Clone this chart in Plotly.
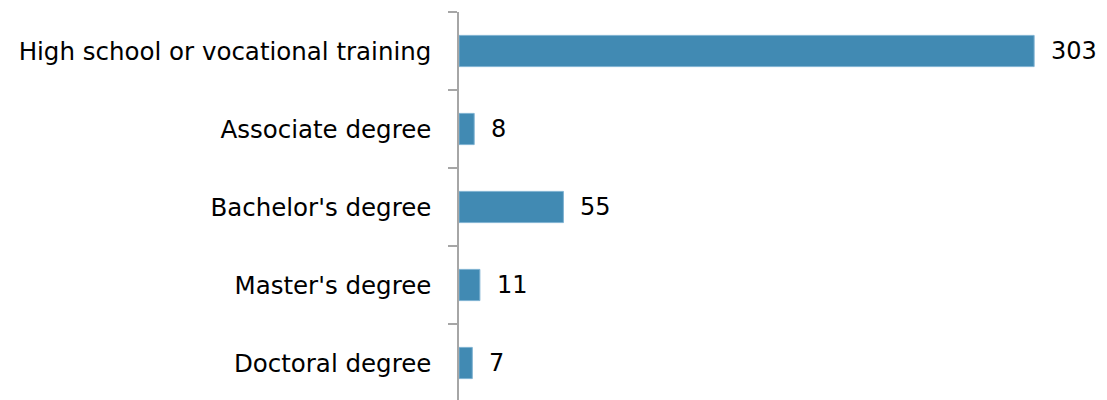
import plotly.graph_objects as go

categories = ["High school or vocational training", "Associate degree", "Bachelor's degree",
              "Master's degree", "Doctoral degree"]
values = [303, 8, 55, 11, 7]

FONT = "DejaVu Sans, sans-serif"

fig = go.Figure(go.Bar(
    y=categories, x=values, orientation="h",
    marker=dict(color="#418AB3", line=dict(color="#7FB2D2", width=1)),
    width=0.4,
    textposition="none",
))

for c, v in zip(categories, values):
    fig.add_annotation(x=v, y=c, text=str(v), showarrow=False, xanchor="left",
                       xshift=15, font=dict(family=FONT, size=24, color="#000000"))

fig.update_layout(
    width=1107, height=400,
    margin=dict(l=451, r=0, t=4, b=6),
    paper_bgcolor="white", plot_bgcolor="white",
    showlegend=False,
    font=dict(family=FONT, size=24, color="#000000"),
    bargap=0.6,
)
fig.update_xaxes(range=[0, 345.6], visible=False, showgrid=False, zeroline=False)
fig.update_yaxes(autorange="reversed", type="category", showline=True, linecolor="#A6A6A6",
                 linewidth=1.5, ticks="outside", tickson="boundaries", ticklen=9,
                 tickcolor="#A6A6A6", tickwidth=1.5, showgrid=False,
                 tickfont=dict(family=FONT, size=24.5, color="#000000"), ticklabelstandoff=21)

fig.write_html("out.html")
